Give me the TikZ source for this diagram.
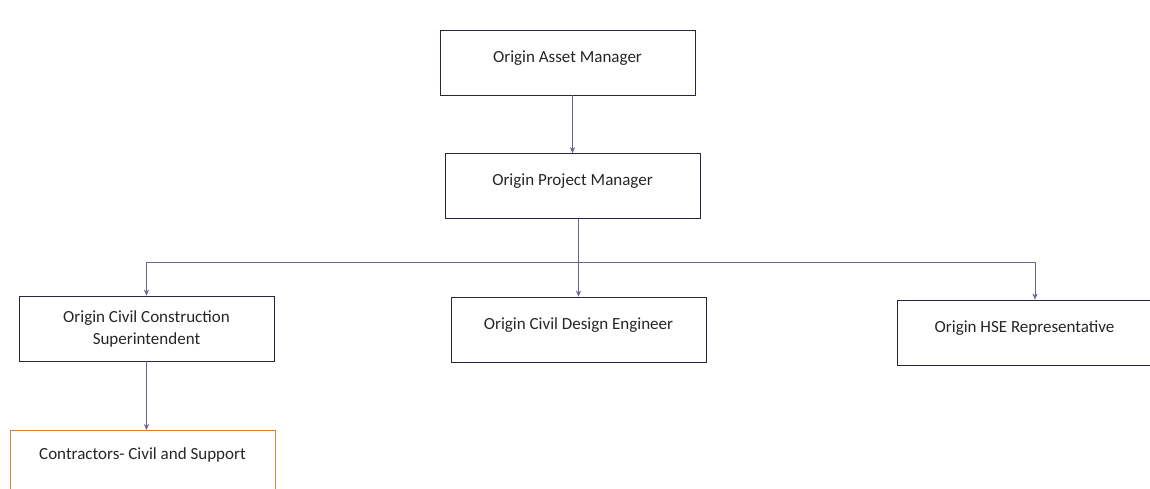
\documentclass[tikz,border=0pt]{standalone}
\usepackage{fontspec}
\setmainfont{Carlito}
\usetikzlibrary{arrows.meta,positioning}
\tikzset{
    % Colors
    box color/.style={black!85!blue!70!gray},
    line color/.style={blue!30!black!60!white},
    contractor color/.style={orange!80!black!80!white},
    %
    % Boxes
    role/.style={draw,box color,thick,text=black!85,minimum width=255pt,minimum height=65pt,align=center,inner sep=2pt},
    lifted/.style={text height=12pt,text depth=12pt},
    %
    % Arrows
    arrow tip/.tip={Stealth[length=6pt,width=5pt]},
    arr/.style={line color,->,>={arrow tip}},
    link/.style={line color}
}
\tikzstyle{every node}=[font=\fontsize{17}{22}\selectfont]

\begin{document}
\begin{tikzpicture}[x=1pt,y=1pt]
        \useasboundingbox (0,0) rectangle (1150,488);
        \node[role,lifted] (asset) at (567.5,425.5) {Origin Asset Manager};
        \node[role,lifted] (project) at (572.5,302) {Origin Project Manager};
        \node[role] (super) at (146.5,159.5) {Origin Civil Construction\\Superintendent};
        \node[role,lifted] (design) at (578.5,158.5) {Origin Civil Design Engineer};
        \node[role,lifted] (hse) at (1024.5,155.5) {Origin HSE Representative};
        \node[role,draw=none,minimum width=265pt] (contract) at (142.5,33) {Contractors- Civil and Support};
        \draw[contractor color,thick] (10,-10) |- (275,58) -- (275,-10);
        \coordinate (bus) at (0,226);
        \coordinate (hsetop) at ([xshift=10.5pt]hse.north);
        %
        \draw[arr] (asset.south -| project.north) -- (project.north);
        \draw[arr] (design.north |- project.south) -- (design.north);
        \draw[link] (super.north |- bus) -- (hsetop |- bus);
        \draw[arr] (super.north |- bus) -- (super.north);
        \draw[arr] (hsetop |- bus) -- (hsetop);
        \draw[arr] (super.south) -- (super.south |- 0,58);
\end{tikzpicture}
\end{document}
